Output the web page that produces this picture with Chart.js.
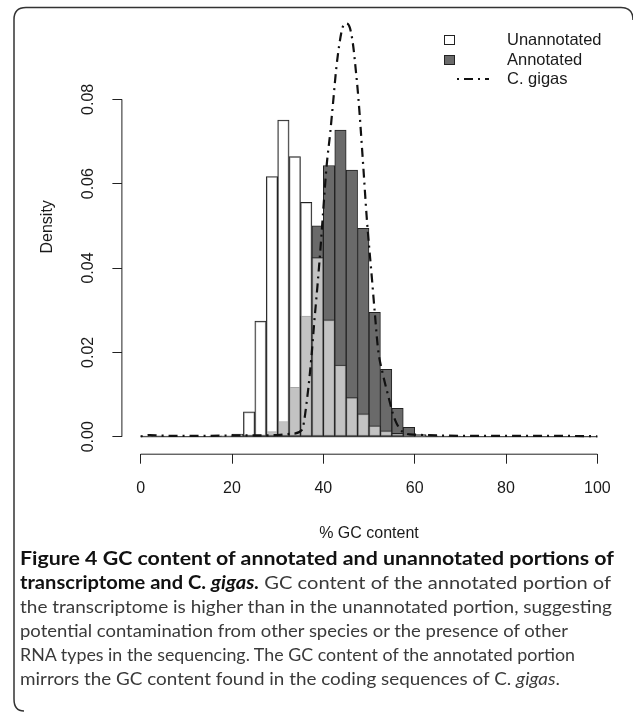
<!DOCTYPE html>
<html>
<head>
<meta charset="utf-8">
<script src="https://cdn.jsdelivr.net/npm/chart.js@4.4.1/dist/chart.umd.min.js"></script>
<style>
  html, body { margin: 0; padding: 0; background: #fff; }
  #fig { position: relative; width: 633px; height: 715px; overflow: hidden; }
  #c { position: absolute; left: 0; top: 0; }
  #frame { position: absolute; left: 0; top: 0; }
  #caption {
    position: absolute; left: 20px; top: 546px;
    font-family: Lato, 'Open Sans', sans-serif; font-size: 18px; line-height: 24px;
    color: #3a3a3a; white-space: nowrap;
  }
  #caption .ln { height: 24px; }
  #caption .ln span { display: inline-block; transform-origin: 0 50%; }
  #caption b { color: #111; }
</style>
</head>
<body>
<div id="fig">
  <canvas id="c" width="633" height="548"></canvas>
  <svg id="frame" width="633" height="715">
    <path d="M633,20 Q633,7.5 621,7.5 L26,7.5 Q14,7.5 14,19.5 L14,699 Q14,711 24,711" fill="none" stroke="#333" stroke-width="1.5"/>
  </svg>
  <div id="caption">
    <div class="ln" data-w="594"><span><b>Figure 4 GC content of annotated and unannotated portions of</b></span></div>
    <div class="ln" data-w="591"><span><b>transcriptome and C. <i>gigas.</i></b> GC content of the annotated portion of</span></div>
    <div class="ln" data-w="592"><span>the transcriptome is higher than in the unannotated portion, suggesting</span></div>
    <div class="ln" data-w="548"><span>potential contamination from other species or the presence of other</span></div>
    <div class="ln" data-w="555"><span>RNA types in the sequencing. The GC content of the annotated portion</span></div>
    <div class="ln" data-w="540"><span>mirrors the GC content found in the coding sequences of C. <i>gigas</i>.</span></div>
  </div>
</div>
<script>
// histogram bins of 2.5 % GC, mid points
const binMids = [1.25, 3.75, 6.25, 8.75, 11.25, 13.75, 16.25, 18.75, 21.25, 23.75,
  26.25, 28.75, 31.25, 33.75, 36.25, 38.75, 41.25, 43.75, 46.25, 48.75,
  51.25, 53.75, 56.25, 58.75, 61.25, 63.75, 66.25, 68.75, 71.25, 73.75,
  76.25, 78.75, 81.25, 83.75, 86.25, 88.75, 91.25, 93.75, 96.25, 98.75]

const unannotated = [0, 0, 0, 0, 0, 0, 0, 0.0002, 0.0006, 0.0059,
  0.0274, 0.0617, 0.0751, 0.0664, 0.0556, 0.0425, 0.0277, 0.0170, 0.0093, 0.0054,
  0.0026, 0.0014, 0.0008, 0.0003, 0.0001, 0, 0, 0, 0, 0,
  0, 0, 0, 0, 0, 0, 0, 0, 0, 0]

const annotated = [0.0001, 0.0002, 0.0001, 0, 0, 0, 0.0001, 0.0001, 0.0002, 0.0002,
  0.0004, 0.0012, 0.0036, 0.0117, 0.0286, 0.0500, 0.0643, 0.0727, 0.0632, 0.0494,
  0.0295, 0.0160, 0.0067, 0.0022, 0.0005, 0.0002, 0.0001, 0.0001, 0, 0,
  0, 0, 0, 0, 0, 0, 0, 0, 0, 0]

// C. gigas density curve
const gigasX = [0, 2, 4, 6, 10, 15, 20, 25, 30, 33, 35.3, 36.5, 37.4, 38, 38.7, 39.4, 40, 40.7, 41.5, 42.2,
  42.8, 43.5, 44.2, 45, 45.8, 46.5, 47.1, 47.7, 48.75, 49.5, 50.6, 51.3, 52, 53, 53.9, 55.7, 57.9,
  60, 62, 65, 70, 80, 90, 100]
const gigasY = [0.0001, 0.0004, 0.0003, 0.0002, 0.0002, 0.0002, 0.0003, 0.0003, 0.0004, 0.0007,
  0.0016, 0.0095, 0.019, 0.027, 0.0356, 0.045, 0.054, 0.064, 0.072, 0.080,
  0.087, 0.093, 0.097, 0.098, 0.097, 0.093, 0.087, 0.080, 0.064, 0.052, 0.038, 0.029, 0.0206, 0.015, 0.011, 0.004, 0.0008,
  0.0005, 0.0004, 0.0003, 0.0002, 0.0002, 0.0002, 0.0001]

const xTicks = [0, 20, 40, 60, 80, 100]
const yTicks = [0, 0.02, 0.04, 0.06, 0.08]
const xTickLabels = ['0', '20', '40', '60', '80', '100']
const yTickLabels = ['0.00', '0.02', '0.04', '0.06', '0.08']

const FONT = '"Liberation Sans", Arial, Helvetica, sans-serif'
const INK = '#1a1a1a'

// squeeze each caption line to the width it has in the figure
document.querySelectorAll('#caption .ln').forEach(ln => {
  const span = ln.querySelector('span')
  const w = span.getBoundingClientRect().width
  span.style.transform = 'scaleX(' + (parseFloat(ln.dataset.w) / w).toFixed(4) + ')'
})

// R style axes: lines only span first..last tick, y labels rotated
const rAxes = {
  id: 'rAxes',
  beforeDatasetsDraw(chart) {
    const { ctx, scales: { x, y } } = chart
    ctx.save()
    ctx.strokeStyle = '#222'
    ctx.lineWidth = 1
    ctx.beginPath()
    ctx.moveTo(x.getPixelForValue(xTicks[0]), y.getPixelForValue(0))
    ctx.lineTo(x.getPixelForValue(xTicks[xTicks.length - 1]), y.getPixelForValue(0))
    ctx.stroke()
    ctx.restore()
  },
  afterDraw(chart) {
    const { ctx, chartArea, scales: { x, y } } = chart
    ctx.save()
    ctx.strokeStyle = '#222'
    ctx.lineWidth = 1
    ctx.beginPath()
    ctx.moveTo(x.getPixelForValue(xTicks[0]), chartArea.bottom + 0.5)
    ctx.lineTo(x.getPixelForValue(xTicks[xTicks.length - 1]), chartArea.bottom + 0.5)
    ctx.moveTo(chartArea.left - 0.5, y.getPixelForValue(yTicks[0]))
    ctx.lineTo(chartArea.left - 0.5, y.getPixelForValue(yTicks[yTicks.length - 1]))
    ctx.stroke()

    ctx.fillStyle = INK
    ctx.font = '16px ' + FONT
    ctx.textAlign = 'center'
    ctx.textBaseline = 'middle'
    yTicks.forEach((v, i) => {
      ctx.save()
      ctx.translate(89, y.getPixelForValue(v))
      ctx.rotate(-Math.PI / 2)
      ctx.fillText(yTickLabels[i], 0, 0)
      ctx.restore()
    })
    ctx.restore()
  }
}

const rLegend = {
  id: 'rLegend',
  afterDraw(chart) {
    const ctx = chart.ctx
    const rows = [40, 60, 79]
    ctx.save()
    ctx.font = '16.5px ' + FONT
    ctx.textBaseline = 'middle'
    chart.data.datasets.forEach((d, i) => {
      const yy = rows[i]
      if (d.type === 'line') {
        ctx.strokeStyle = d.borderColor
        ctx.lineWidth = d.borderWidth
        ctx.setLineDash(d.borderDash)
        ctx.beginPath()
        ctx.moveTo(457, yy)
        ctx.lineTo(489, yy)
        ctx.stroke()
        ctx.setLineDash([])
      } else {
        ctx.fillStyle = i === 0 ? '#ffffff' : d.backgroundColor
        ctx.fillRect(444.5, yy - 4.5, 10, 9)
        ctx.strokeStyle = '#222'
        ctx.lineWidth = 1
        ctx.strokeRect(444.5, yy - 4.5, 10, 9)
      }
      ctx.fillStyle = INK
      ctx.fillText(d.label, 507, yy)
    })
    ctx.restore()
  }
}

const barCommon = {
  borderColor: '#222',
  borderWidth: 1,
  borderSkipped: false,
  grouped: false,
  barPercentage: 1,
  categoryPercentage: 1
}

new Chart(document.getElementById('c'), {
  type: 'bar',
  data: {
    datasets: [
      {
        ...barCommon,
        label: 'Unannotated',
        data: binMids.map((m, i) => ({ x: m, y: unannotated[i] })),
        backgroundColor: 'rgba(255,255,255,0.6)',
        order: 1
      },
      {
        ...barCommon,
        label: 'Annotated',
        data: binMids.map((m, i) => ({ x: m, y: annotated[i] })),
        backgroundColor: '#6a6a6a',
        order: 2
      },
      {
        type: 'line',
        label: 'C. gigas',
        data: gigasX.map((g, i) => ({ x: g, y: gigasY[i] })),
        borderColor: '#111',
        borderWidth: 2.2,
        borderDash: [2, 5, 9, 5],
        pointRadius: 0,
        fill: false,
        cubicInterpolationMode: 'monotone',
        order: 0
      }
    ]
  },
  options: {
    responsive: false,
    animation: false,
    devicePixelRatio: 1,
    layout: { padding: { left: 0, right: 17.4, top: 0, bottom: 0 } },
    plugins: { legend: { display: false }, tooltip: { enabled: false } },
    scales: {
      x: {
        type: 'linear',
        min: -4,
        max: 104,
        offset: false,
        afterBuildTicks: s => { s.ticks = xTicks.map(v => ({ value: v })) },
        afterFit: s => { s.height = 548 - 453.7 },
        grid: { display: true, drawOnChartArea: false, drawTicks: true, tickLength: 10, color: '#222', offset: false },
        border: { display: false },
        ticks: {
          font: { family: FONT, size: 16 },
          color: INK,
          padding: 15,
          maxRotation: 0,
          autoSkip: false,
          callback: (v, i) => xTickLabels[i]
        },
        title: {
          display: true,
          text: '% GC content',
          font: { family: FONT, size: 16 },
          color: INK,
          padding: { top: 0, bottom: 5 }
        }
      },
      y: {
        type: 'linear',
        min: -0.00403,
        max: 0.10355,
        afterBuildTicks: s => { s.ticks = yTicks.map(v => ({ value: v })) },
        afterFit: s => { s.width = 122.4 },
        grid: { display: true, drawOnChartArea: false, drawTicks: true, tickLength: 10, color: '#222' },
        border: { display: false },
        ticks: { display: false },
        title: {
          display: true,
          text: 'Density',
          font: { family: FONT, size: 16 },
          color: INK,
          padding: { top: 38.4, bottom: 0 }
        }
      }
    }
  },
  plugins: [rAxes, rLegend]
})
</script>
</body>
</html>
